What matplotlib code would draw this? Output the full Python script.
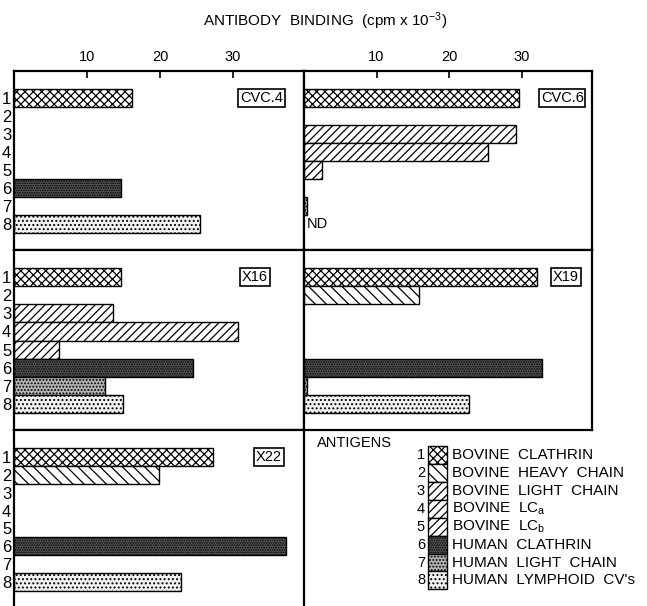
import matplotlib
matplotlib.use("Agg")
import matplotlib.pyplot as plt
import numpy as np

plt.rcParams['font.family'] = ['Liberation Sans', 'DejaVu Sans']
plt.rcParams['mathtext.default'] = 'regular'
plt.rcParams['hatch.linewidth'] = 0.9

# ---------------- data ----------------
antigen_ids = [1, 2, 3, 4, 5, 6, 7, 8]
antigen_names = ["BOVINE  CLATHRIN", "BOVINE  HEAVY  CHAIN", "BOVINE  LIGHT  CHAIN",
                 "BOVINE  LC$_{a}$", "BOVINE  LC$_{b}$", "HUMAN  CLATHRIN",
                 "HUMAN  LIGHT  CHAIN", "HUMAN  LYMPHOID  CV's"]
panel_names = ["CVC.4", "CVC.6", "X16", "X19", "X22"]
cvc4 = [16.1, 0, 0, 0, 0, 14.6, 0, 25.5]
cvc6 = [29.7, 0, 29.2, 25.4, 2.5, 0, 0.4, np.nan]   # antigen 8 not determined
x16 = [14.6, 0, 13.6, 30.6, 6.1, 24.5, 12.4, 14.9]
x19 = [32.1, 15.8, 0, 0, 0, 32.8, 0.4, 22.8]
x22 = [27.3, 19.9, 0, 0, 0, 37.2, 0, 22.8]
panel_values = [cvc4, cvc6, x16, x19, x22]
x_ticks = [10, 20, 30]

# styles per antigen
hatches = ['xxxx', '\\\\\\', '////', '////', '////', '.......', '.....', '....']
faces = ['white', 'white', 'white', 'white', 'white', '#5a5a5a', '#b4b4b4', '#f2f2f2']

W, H = 647, 606
fig = plt.figure(figsize=(W / 100, H / 100), dpi=100)


def px_axes(x0, y0, x1, y1):
    return fig.add_axes([x0 / W, 1 - y1 / H, (x1 - x0) / W, (y1 - y0) / H])


cols = [(14, 304), (304, 592)]
rows = [(71, 250), (250, 430), (430, 608)]
label_x = [33.9, 35.6, 33.0, 36.1, 34.9]
XMAX = 39.7
YLIM = (9.44, -0.5)

for k, (name, vals) in enumerate(zip(panel_names, panel_values)):
    r, c = divmod(k, 2)
    ax = px_axes(cols[c][0], rows[r][0], cols[c][1], rows[r][1])
    ax.set_xlim(0, XMAX)
    ax.set_ylim(*YLIM)
    for s in ax.spines.values():
        s.set_linewidth(1.6)
    for i, v in enumerate(vals):
        if np.isfinite(v) and v > 0:
            ax.barh(antigen_ids[i], v, height=1.0, left=0, color=faces[i],
                    edgecolor='black', linewidth=1.0, hatch=hatches[i], zorder=2)
    if name == "CVC.6":
        ax.text(0.4, antigen_ids[7], "ND", ha='left', va='center', fontsize=10.5)
    ax.text(label_x[k], 1, name, ha='center', va='center', fontsize=10.5,
            bbox=dict(boxstyle='square,pad=0.12', fc='white', ec='black', lw=1.2),
            zorder=3)
    if r == 0:
        ax.xaxis.tick_top()
        ax.set_xticks(x_ticks)
        ax.set_xticklabels([str(t) for t in x_ticks])
        ax.tick_params(axis='x', direction='in', length=5, width=1.2,
                       labelsize=10.5, pad=5)
    else:
        ax.set_xticks([])
    if c == 0:
        ax.set_yticks(antigen_ids)
        ax.set_yticklabels([str(a) for a in antigen_ids])
        ax.tick_params(axis='y', length=0, labelsize=12, pad=2)
    else:
        ax.set_yticks([])

# legend area (bottom-right)
lax = px_axes(304, 430, 647, 608)
lax.set_xlim(0, 343)
lax.set_ylim(*YLIM)
lax.axis('off')
lax.patch.set_alpha(0)
lax.text(13, 0.2, "ANTIGENS", ha='left', va='center', fontsize=10.5)
for i, a in enumerate(antigen_ids):
    lax.barh(a - 0.1, 19, height=1.0, left=124, color=faces[i], edgecolor='black',
             linewidth=1.0, hatch=hatches[i])
    lax.text(121, a - 0.1, str(a), ha='right', va='center', fontsize=10.5)
    lax.text(148, a - 0.1, antigen_names[i], ha='left', va='center', fontsize=11)

fig.text(325 / W, 1 - 21 / H, "ANTIBODY  BINDING  (cpm x 10$^{-3}$)",
         ha='center', va='center', fontsize=11)

fig.savefig("out.png", dpi=100)
